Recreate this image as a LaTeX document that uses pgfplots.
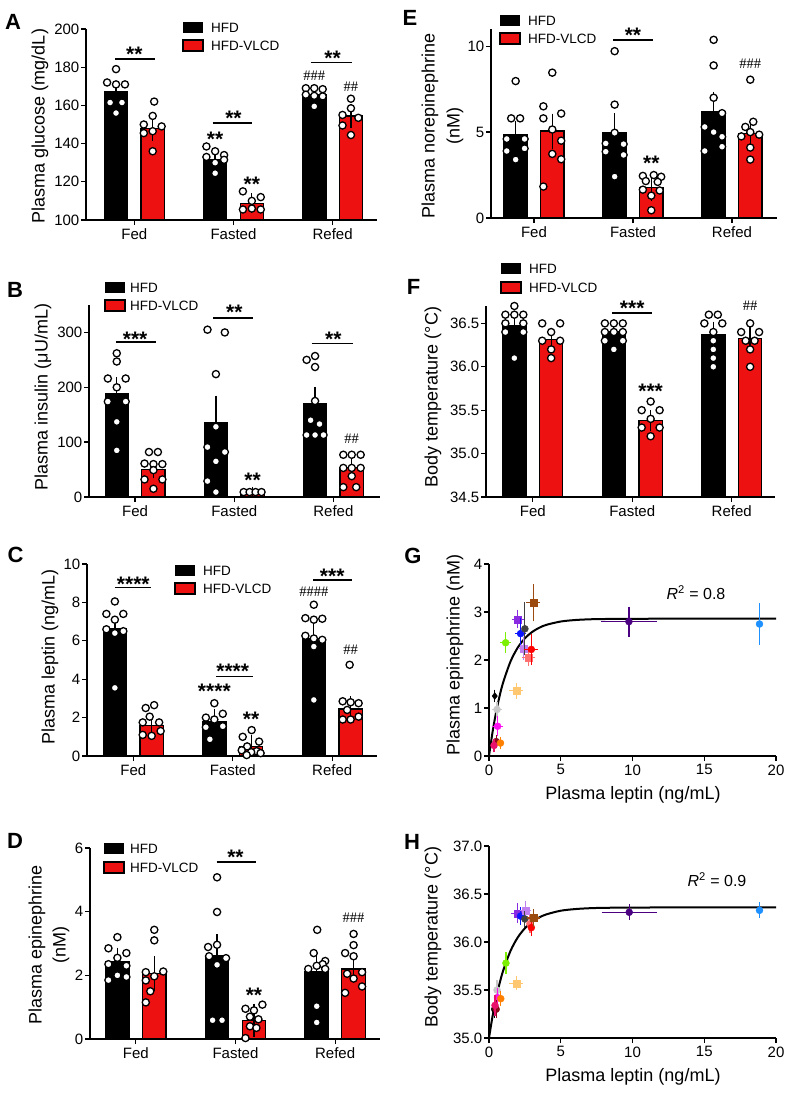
\documentclass[border=0pt]{standalone}
\usepackage{fontspec}
\setmainfont{Liberation Sans}
\newfontfamily\hashfamily{Liberation Serif}
\usepackage{pgfplots}
\pgfplotsset{compat=1.18}
\definecolor{vred}{HTML}{EE1111}
\definecolor{cmag}{HTML}{FF10F0}
\definecolor{cgray}{HTML}{C8C8C8}
\definecolor{cmaroon}{HTML}{8B0A1A}
\definecolor{ccrim}{HTML}{E8106A}
\definecolor{corange}{HTML}{FF8000}
\definecolor{cgreen}{HTML}{7CF000}
\definecolor{ctan}{HTML}{FFC870}
\definecolor{cviolet}{HTML}{8A2BE2}
\definecolor{cblue}{HTML}{0A14FF}
\definecolor{clpurp}{HTML}{C080F0}
\definecolor{cdgray}{HTML}{404040}
\definecolor{csalmon}{HTML}{FF7070}
\definecolor{cred}{HTML}{FF0000}
\definecolor{cbrown}{HTML}{9B4A10}
\definecolor{cindigo}{HTML}{4B0082}
\definecolor{cdodger}{HTML}{1E90FF}
\newcommand\fsT{\fontsize{15}{18}\selectfont}
\newcommand\fsL{\fontsize{18}{21}\selectfont}
\newcommand\fsG{\fontsize{13.5}{16}\selectfont}
\newcommand\fsP{\fontsize{22}{24}\selectfont\bfseries}
\newcommand\fsS{\fontsize{21}{21}\selectfont\bfseries}
\newcommand\fsH{\hashfamily\fontsize{14.5}{14.5}\selectfont}
\tikzset{
  sstar/.style={font=\fsS, inner sep=0pt, yshift=-4.5pt},
  hhash/.style={font=\fsH, inner sep=0pt},
}
\pgfplotsset{
  base/.style={scale only axis, axis lines=left, axis line style={-, line width=1.3pt},
    tick align=outside, major tick length=5pt,
    every tick/.style={black, line width=1.3pt},
    tick label style={font=\fsT},
    yticklabel style={inner sep=1.5pt},
    clip mode=individual,
    /pgf/number format/assume math mode=true},
  barpanel/.style={base, xtick={0,1,2}, xticklabels={Fed,Fasted,Refed}},
  hfd/.style={ybar, bar width=0.235, bar shift=0pt, fill=black, draw=black, line width=1.2pt,
    error bars/.cd, y dir=both, y explicit, error bar style={line width=1.3pt, black},
    error mark options={line width=1.3pt, mark size=6pt, black}},
  vlcd/.style={ybar, bar width=0.235, bar shift=0pt, fill=vred, draw=black, line width=1.2pt,
    error bars/.cd, y dir=both, y explicit, error bar style={line width=1.3pt, black},
    error mark options={line width=1.3pt, mark size=6pt, black}},
  dots/.style={only marks, mark=*, mark size=3.6pt, mark options={fill=white, draw=black, line width=1.3pt}},
  scat/.style={base, xmin=0, xmax=20, xtick={0,5,10,15,20}},
}
\newcommand\sig[6]{\draw[line width=1.8pt] (axis cs:#1,#3) -- (axis cs:#2,#3); \node[sstar] at (axis cs:#4,#5) {#6};}
\newcommand\hleg[4]{%
  \fill[black] (#1pt,-#2pt) rectangle ++(20pt,-11pt);
  \filldraw[fill=vred, draw=black, line width=1.2pt] (#1pt,-#3pt) rectangle ++(20pt,-11pt);
  \node[anchor=west, inner sep=0pt, font=\fsG] at ([yshift=-5.5pt]#4pt,-#2pt) {HFD};
  \node[anchor=west, inner sep=0pt, font=\fsG] at ([yshift=-5.5pt]#4pt,-#3pt) {HFD-VLCD};}
% scatter point: color, mark, x, y, ex, ey, xdir
\newcommand\gp[7]{\addplot[only marks, mark=#2, color=#1, mark size=3.5pt,
  error bars/.cd, x dir=#7, x explicit, y dir=both, y explicit,
  error bar style={line width=1.2pt, #1}, error mark options={line width=1.2pt, mark size=4pt, #1}]
  coordinates {(#3,#4) +- (#5,#6)};}
\begin{document}
\begin{tikzpicture}
\useasboundingbox (0,0) rectangle (796pt,-1106pt);
% ---------------- A
\begin{axis}[barpanel, at={(86pt,-220pt)}, anchor=south west, width=291pt, height=191pt,
  xmin=-0.488, xmax=2.448, ymin=100, ymax=200, ytick={100,120,140,160,180,200}]
\addplot[hfd] coordinates {(-0.185,167.3) +- (0,2.3) (0.815,131.8) +- (0,2.8) (1.815,165.9) +- (0,1.2)};
\addplot[vlcd] coordinates {(0.185,148.1) +- (0,3.5) (1.185,108.7) +- (0,2.1) (2.185,154.5) +- (0,3.2)};
\addplot[dots] coordinates {(-0.185,179) (-0.275,172) (-0.185,171) (-0.095,171) (-0.245,161.5) (-0.125,161.5) (-0.185,156)
 (0.2,162) (0.185,154.5) (0.095,150) (0.275,149) (0.185,146.5) (0.095,145.5) (0.185,136)
 (0.727,138.5) (0.815,136) (0.905,134) (0.727,133) (0.905,131.5) (0.815,130) (0.815,124.5)
 (1.095,115) (1.275,112) (1.185,110) (1.185,106) (1.095,105.5) (1.275,105.5)
 (1.73,169) (1.815,169) (1.9,168.5) (1.73,165.6) (1.815,165) (1.9,164.7) (1.815,159.5)
 (2.185,163.5) (2.185,158.5) (2.1,155) (2.26,153.5) (2.1,149.5) (2.185,144.5)};
\sig{-0.195}{0.21}{184.3}{0.0}{189}{**}
\sig{0.79}{1.19}{150.7}{1.0}{155.5}{**}
\sig{1.78}{2.2}{182.5}{2.0}{187}{**}
\node[sstar] at (axis cs:0.815,144.6) {**};
\node[sstar] at (axis cs:1.185,121) {**};
\node[hhash] at (axis cs:1.815,175.5) {\#\#\#};
\node[hhash] at (axis cs:2.185,169.6) {\#\#};
\end{axis}
% ---------------- B
\begin{axis}[barpanel, at={(89pt,-497pt)}, anchor=south west, width=291pt, height=192pt,
  xmin=-0.465, xmax=2.47, ymin=0, ymax=350, ytick={0,100,200,300}]
\addplot[hfd] coordinates {(-0.185,189) +- (0,18) (0.815,136) +- (0,38) (1.815,170) +- (0,20)};
\addplot[vlcd] coordinates {(0.185,50) +- (0,5) (1.185,7) +- (0,1) (2.185,54) +- (0,7)};
\addplot[dots] coordinates {(-0.185,262) (-0.185,247) (-0.275,216) (-0.095,216) (-0.185,200) (-0.275,174) (-0.095,174) (-0.185,137) (-0.185,85)
 (0.14,82) (0.23,82) (0.095,61) (0.185,60) (0.275,60) (0.185,49) (0.095,32) (0.275,32) (0.185,15)
 (0.73,305) (0.905,300) (0.815,224) (0.815,128) (0.73,91) (0.905,82) (0.815,65) (0.73,29) (0.815,9)
 (1.095,9) (1.155,9) (1.215,9) (1.275,9)
 (1.815,257) (1.73,250) (1.815,237) (1.815,175) (1.77,140) (1.86,133) (1.73,113) (1.815,113) (1.9,113)
 (2.1,77) (2.185,77) (2.275,77) (2.1,53) (2.275,53) (2.185,53) (2.185,38) (2.1,18) (2.23,18)};
\sig{-0.195}{0.21}{282}{0.0}{296}{***}
\sig{0.79}{1.19}{326}{1.0}{345}{**}
\sig{1.78}{2.2}{280}{2.0}{296}{**}
\node[sstar] at (axis cs:1.185,38) {**};
\node[hhash] at (axis cs:2.185,107) {\#\#};
\end{axis}
% ---------------- C
\begin{axis}[barpanel, at={(87pt,-756pt)}, anchor=south west, width=290pt, height=192pt,
  xmin=-0.465, xmax=2.45, ymin=0, ymax=10, ytick={0,2,4,6,8,10}]
\addplot[hfd] coordinates {(-0.185,6.66) +- (0,0.3) (0.815,1.79) +- (0,0.35) (1.815,6.1) +- (0,0.57)};
\addplot[vlcd] coordinates {(0.185,1.6) +- (0,0.25) (1.185,0.5) +- (0,0.3) (2.185,2.45) +- (0,0.35)};
\addplot[dots] coordinates {(-0.185,8.05) (-0.27,7.4) (-0.1,7.4) (-0.185,7.1) (-0.27,6.6) (-0.1,6.5) (-0.185,6.4) (-0.185,3.55)
 (0.21,2.65) (0.125,2.5) (0.165,2.05) (0.26,1.75) (0.095,1.75) (0.275,1.3) (0.095,1.1) (0.185,1.05)
 (0.815,2.75) (0.9,2.2) (0.73,2.0) (0.815,1.9) (0.9,1.55) (0.73,1.5) (0.77,0.87)
 (1.19,1.35) (1.1,1.0) (1.265,0.75) (1.145,0.5) (1.09,0.3) (1.24,0.25) (1.185,0.2) (1.28,0.15) (1.14,0.05)
 (1.815,7.88) (1.73,7.18) (1.9,7.15) (1.815,7.1) (1.73,6.26) (1.815,6.12) (1.9,6.05) (1.815,5.7) (1.815,2.92)
 (2.175,4.75) (2.105,2.85) (2.185,2.8) (2.265,2.75) (2.15,2.4) (2.265,2.05) (2.105,1.9) (2.185,1.9)};
\sig{-0.185}{0.175}{8.78}{0.0}{9.2}{****}
\sig{0.83}{1.2}{4.14}{1.0}{4.63}{****}
\sig{1.81}{2.2}{9.15}{2.0}{9.58}{***}
\node[sstar] at (axis cs:0.815,3.6) {****};
\node[sstar] at (axis cs:1.185,2.15) {**};
\node[hhash] at (axis cs:1.815,8.57) {\#\#\#\#};
\node[hhash] at (axis cs:2.185,5.53) {\#\#};
\end{axis}
% ---------------- D
\begin{axis}[barpanel, at={(90pt,-1039pt)}, anchor=south west, width=290pt, height=191pt,
  xmin=-0.46, xmax=2.45, ymin=0, ymax=6, ytick={0,2,4,6}]
\addplot[hfd] coordinates {(-0.185,2.44) +- (0,0.24) (0.815,2.62) +- (0,0.48) (1.815,2.13) +- (0,0.32)};
\addplot[vlcd] coordinates {(0.185,2.05) +- (0,0.36) (1.185,0.59) +- (0,0.33) (2.185,2.2) +- (0,0.24)};
\addplot[dots] coordinates {(-0.185,3.2) (-0.275,2.85) (-0.095,2.7) (-0.185,2.55) (-0.275,2.35) (-0.095,2.3) (-0.185,2.0) (-0.095,1.95) (-0.275,1.85)
 (0.185,3.43) (0.185,3.1) (0.275,2.12) (0.1,2.1) (0.185,1.97) (0.1,1.84) (0.145,1.5) (0.1,1.15)
 (0.815,5.08) (0.815,3.99) (0.815,2.96) (0.725,2.89) (0.735,2.6) (0.905,2.54) (0.815,2.33) (0.77,0.59) (0.865,0.59)
 (1.27,1.08) (1.1,0.95) (1.185,0.9) (1.145,0.7) (1.23,0.62) (1.145,0.4) (1.21,0.35) (1.1,0.03)
 (1.82,3.43) (1.785,2.7) (1.9,2.45) (1.875,2.35) (1.815,2.3) (1.73,2.2) (1.9,2.2) (1.815,1.03) (1.815,0.52)
 (2.185,3.3) (2.185,2.95) (2.1,2.7) (2.185,2.6) (2.27,2.1) (2.12,2.05) (2.185,1.9) (2.27,1.65) (2.1,1.45)};
\sig{0.81}{1.21}{5.55}{1.0}{5.84}{**}
\node[sstar] at (axis cs:1.185,1.5) {**};
\node[hhash] at (axis cs:2.185,3.8) {\#\#\#};
\end{axis}
% ---------------- E
\begin{axis}[barpanel, at={(491pt,-218pt)}, anchor=south west, width=286pt, height=189pt,
  xmin=-0.434, xmax=2.455, ymin=0, ymax=11, ytick={0,5,10}]
\addplot[hfd] coordinates {(-0.185,4.83) +- (0,0.48) (0.815,4.98) +- (0,0.77) (1.815,6.18) +- (0,0.81)};
\addplot[vlcd] coordinates {(0.185,5.06) +- (0,0.67) (1.185,1.78) +- (0,0.44) (2.185,4.92) +- (0,0.35)};
\addplot[dots] coordinates {(-0.185,7.97) (-0.23,5.8) (-0.14,5.8) (-0.275,4.6) (-0.095,4.6) (-0.095,4.05) (-0.275,3.9) (-0.185,3.4)
 (0.185,8.46) (0.095,6.5) (0.275,6.08) (0.095,5.8) (0.185,5.15) (0.275,4.5) (0.185,3.73) (0.275,3.42) (0.095,1.83)
 (0.815,9.71) (0.815,6.6) (0.815,4.96) (0.725,4.34) (0.905,4.3) (0.725,3.86) (0.905,3.67) (0.815,2.41)
 (1.21,2.5) (1.1,2.45) (1.285,2.4) (1.13,2.15) (1.25,2.1) (1.1,1.65) (1.27,1.6) (1.185,1.3) (1.185,0.45)
 (1.815,10.37) (1.815,8.88) (1.815,7.0) (1.9,6.1) (1.725,5.3) (1.815,5.0) (1.9,4.73) (1.9,4.15) (1.725,3.9)
 (2.185,8.05) (2.215,5.6) (2.135,5.3) (2.185,5.0) (2.275,4.85) (2.095,4.75) (2.185,4.1) (2.185,3.4)};
\sig{0.8}{1.2}{10.37}{1.0}{10.9}{**}
\node[sstar] at (axis cs:1.185,3.42) {**};
\node[hhash] at (axis cs:2.185,8.98) {\#\#\#};
\end{axis}
% ---------------- F
\begin{axis}[barpanel, at={(486pt,-497pt)}, anchor=south west, width=289pt, height=191pt,
  xmin=-0.47, xmax=2.435, ymin=34.5, ymax=36.7, ytick={34.5,35,35.5,36,36.5},
  yticklabel style={/pgf/number format/.cd, fixed, fixed zerofill, precision=1}]
\addplot[hfd] coordinates {(-0.185,36.47) +- (0,0.09) (0.815,36.41) +- (0,0.04) (1.815,36.37) +- (0,0.08)};
\addplot[vlcd] coordinates {(0.185,36.31) +- (0,0.05) (1.185,35.38) +- (0,0.05) (2.185,36.33) +- (0,0.06)};
\addplot[dots] coordinates {(-0.185,36.7) (-0.275,36.6) (-0.185,36.6) (-0.095,36.6) (-0.275,36.5) (-0.095,36.5) (-0.275,36.4) (-0.095,36.4) (-0.185,36.1)
 (0.095,36.5) (0.275,36.5) (0.185,36.4) (0.095,36.3) (0.275,36.3) (0.185,36.2) (0.185,36.1)
 (0.725,36.5) (0.815,36.5) (0.905,36.5) (0.725,36.4) (0.815,36.4) (0.905,36.4) (0.725,36.3) (0.905,36.3) (0.815,36.2)
 (1.185,35.6) (1.095,35.5) (1.275,35.5) (1.185,35.4) (1.095,35.3) (1.275,35.3) (1.185,35.2)
 (1.77,36.6) (1.86,36.6) (1.725,36.5) (1.905,36.5) (1.815,36.4) (1.815,36.3) (1.815,36.2) (1.815,36.1) (1.815,36.0)
 (2.185,36.5) (2.095,36.4) (2.275,36.4) (2.14,36.3) (2.23,36.3) (2.185,36.2) (2.185,36.0)};
\sig{0.8}{1.2}{36.62}{1.0}{36.73}{***}
\node[sstar] at (axis cs:1.185,35.77) {***};
\node[hhash] at (axis cs:2.185,36.7) {\#\#};
\end{axis}
% ---------------- G
\begin{axis}[scat, at={(489pt,-756pt)}, anchor=south west, width=287pt, height=192pt,
  ymin=0, ymax=4, ytick={0,1,2,3,4}]
\addplot[black, line width=2pt, smooth] coordinates {(0,0) (0.25,0.505) (0.5,0.921) (0.75,1.264) (1,1.546) (1.5,1.970) (2,2.257) (2.5,2.451) (3,2.583) (3.5,2.672) (4,2.733) (5,2.802) (6,2.833) (7,2.848) (8,2.854) (10,2.859) (14,2.86) (20,2.86)};
\gp{black}{diamond*}{0.4}{1.25}{0}{0.05}{none}
\gp{cgray}{*}{0.56}{0.97}{0.1}{0.08}{both}
\gp{cmag}{*}{0.6}{0.62}{0.1}{0.12}{both}
\gp{cmaroon}{*}{0.5}{0.3}{0}{0.05}{none}
\gp{ccrim}{*}{0.35}{0.22}{0}{0.06}{none}
\gp{corange}{*}{0.8}{0.27}{0}{0.05}{none}
\gp{cgreen}{*}{1.16}{2.36}{0.1}{0.13}{both}
\gp{ctan}{square*}{1.9}{1.36}{0.2}{0.08}{both}
\gp{cviolet}{square*}{2.0}{2.85}{0.15}{0.1}{both}
\gp{cblue}{*}{2.2}{2.55}{0.12}{0.24}{both}
\gp{clpurp}{square*}{2.42}{2.24}{0.12}{0.15}{both}
\gp{cdgray}{*}{2.5}{2.65}{0}{0.47}{none}
\gp{csalmon}{square*}{2.75}{2.05}{0.2}{0.1}{both}
\gp{cred}{*}{2.95}{2.22}{0.2}{0.24}{both}
\gp{cbrown}{square*}{3.08}{3.19}{0.2}{0.3}{both}
\gp{cindigo}{*}{9.75}{2.8}{1.65}{0.23}{both}
\gp{cdodger}{*}{18.85}{2.75}{0}{0.35}{none}
\end{axis}
% ---------------- H
\begin{axis}[scat, at={(489pt,-1038pt)}, anchor=south west, width=287pt, height=192pt,
  ymin=35, ymax=37, ytick={35,35.5,36,36.5,37},
  yticklabel style={/pgf/number format/.cd, fixed, fixed zerofill, precision=1}]
\addplot[black, line width=2pt, smooth] coordinates {(0,35) (0.25,35.229) (0.5,35.418) (0.75,35.576) (1,35.708) (1.5,35.908) (2,36.047) (2.5,36.143) (3,36.210) (3.5,36.256) (4,36.288) (5,36.326) (6,36.343) (7,36.352) (8,36.356) (10,36.359) (14,36.36) (20,36.36)};
\gp{black}{*}{0.4}{35.3}{0}{0.05}{none}
\gp{cgray}{*}{0.56}{35.5}{0}{0.06}{none}
\gp{cmag}{*}{0.6}{35.42}{0}{0.06}{none}
\gp{cmaroon}{*}{0.5}{35.3}{0}{0.05}{none}
\gp{ccrim}{*}{0.42}{35.34}{0}{0.07}{none}
\gp{corange}{*}{0.82}{35.41}{0}{0.04}{none}
\gp{cgreen}{*}{1.18}{35.78}{0}{0.07}{none}
\gp{ctan}{square*}{1.9}{35.57}{0.2}{0.03}{both}
\gp{cviolet}{square*}{1.98}{36.3}{0.15}{0.06}{both}
\gp{cblue}{*}{2.2}{36.27}{0}{0.05}{none}
\gp{clpurp}{square*}{2.55}{36.33}{0.12}{0.06}{both}
\gp{cdgray}{*}{2.5}{36.24}{0}{0.04}{none}
\gp{csalmon}{*}{2.85}{36.19}{0}{0.05}{none}
\gp{cred}{*}{2.95}{36.15}{0}{0.05}{none}
\gp{cbrown}{square*}{3.1}{36.25}{0.2}{0.05}{both}
\gp{cindigo}{*}{9.77}{36.31}{1.65}{0.04}{both}
\gp{cdodger}{*}{18.85}{36.33}{0}{0.04}{none}
\end{axis}
% ---------------- legends
\hleg{183}{22}{40}{211}
\hleg{105}{282}{300}{130}
\hleg{175}{565}{583}{203}
\hleg{104}{843}{862}{130}
\hleg{500}{15}{33}{528}
\hleg{501}{263}{282}{529}
% ---------------- axis labels
\node[rotate=90, font=\fsL] at (40pt,-126pt) {Plasma glucose (mg/dL)};
\node[rotate=90, font=\fsL] at (43pt,-397pt) {Plasma insulin (μU/mL)};
\node[rotate=90, font=\fsL] at (50pt,-657pt) {Plasma leptin (ng/mL)};
\node[rotate=90, font=\fsL] at (37pt,-945pt) {Plasma epinephrine};
\node[rotate=90, font=\fsL] at (61pt,-945pt) {(nM)};
\node[rotate=90, font=\fsL] at (430pt,-126pt) {Plasma norepinephrine};
\node[rotate=90, font=\fsL] at (455pt,-126pt) {(nM)};
\node[rotate=90, font=\fsL] at (433pt,-397pt) {Body temperature (°C)};
\node[rotate=90, font=\fsL] at (455pt,-655pt) {Plasma epinephrine (nM)};
\node[rotate=90, font=\fsL] at (433pt,-937pt) {Body temperature (°C)};
\node[font=\fsL] at (633pt,-795pt) {Plasma leptin (ng/mL)};
\node[font=\fsL] at (633pt,-1077pt) {Plasma leptin (ng/mL)};
\node[font=\fontsize{16}{18}\selectfont] at (696pt,-593pt) {\textit{R}\textsuperscript{2} = 0.8};
\node[font=\fontsize{16}{18}\selectfont] at (717pt,-880pt) {\textit{R}\textsuperscript{2} = 0.9};
% ---------------- panel letters
\node[font=\fsP] at (13pt,-22pt) {A};
\node[font=\fsP] at (15pt,-290pt) {B};
\node[font=\fsP] at (15.5pt,-555pt) {C};
\node[font=\fsP] at (15pt,-841pt) {D};
\node[font=\fsP] at (410pt,-18pt) {E};
\node[font=\fsP] at (413.5pt,-287pt) {F};
\node[font=\fsP] at (413pt,-556pt) {G};
\node[font=\fsP] at (412pt,-842pt) {H};
\end{tikzpicture}
\end{document}
